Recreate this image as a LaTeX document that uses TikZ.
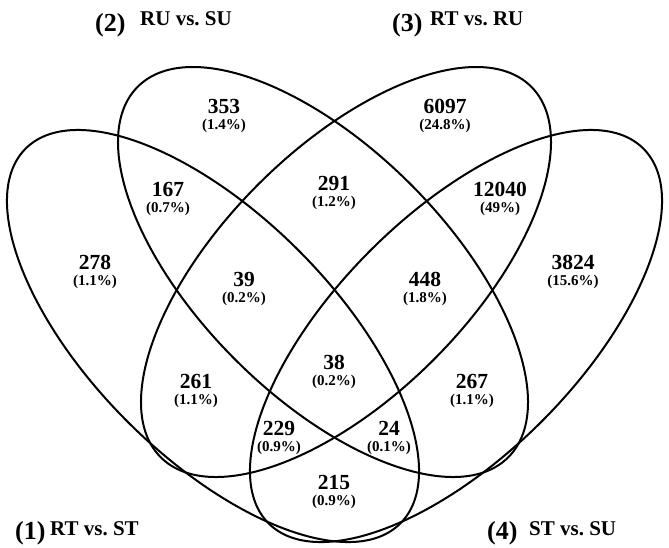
\documentclass[tikz,border=0pt]{standalone}
\usepackage{fontspec}
\setmainfont{Liberation Serif}
\tikzset{
  venn/.style={line width=2pt, black},
  num/.style={font=\fontsize{21.5}{24}\selectfont\bfseries, inner sep=0pt, anchor=base},
  pct/.style={font=\fontsize{15}{17}\selectfont\bfseries, inner sep=0pt, anchor=base},
  setno/.style={font=\fontsize{26}{30}\selectfont\bfseries, inner sep=0pt, anchor=base west},
  setname/.style={font=\fontsize{21}{24}\selectfont\bfseries, inner sep=0pt, anchor=base west},
}
\begin{document}
\begin{tikzpicture}[x=1pt, y=-1pt]
\useasboundingbox (0,0) rectangle (669,547);
% ellipses
\draw[venn, rotate around={-45:(213,336)}] (213,336) ellipse [x radius=265, y radius=121];
\draw[venn, rotate around={-45:(323,272)}] (323,272) ellipse [x radius=262, y radius=124];
\draw[venn, rotate around={45:(346,272)}] (346,272) ellipse [x radius=262, y radius=124];
\draw[venn, rotate around={45:(456,336)}] (456,336) ellipse [x radius=265, y radius=121];
% set labels
\node[setno] (s2) at (95,31) {(2)};
\node[setname] (t2) at (140,25) {RU vs.\ SU};
\node[setno] (s3) at (392,31) {(3)};
\node[setname] (t3) at (430,25) {RT vs.\ RU};
\node[setno] (s1) at (15,539) {(1)};
\node[setname] (t1) at (50,535) {RT vs.\ ST};
\node[setno] (s4) at (487,539) {(4)};
\node[setname] (t4) at (529,535) {ST vs.\ SU};
% region values
\node[num] (n353) at (224,113) {353};   \node[pct] (p353) at (224,129) {(1.4\%)};
\node[num] (n6097) at (445,113) {6097}; \node[pct] (p6097) at (445,129) {(24.8\%)};
\node[num] (n167) at (168,196) {167};   \node[pct] (p167) at (168,212) {(0.7\%)};
\node[num] (n12040) at (500,196) {12040}; \node[pct] (p12040) at (500,212) {(49\%)};
\node[num] (n291) at (334,190) {291};   \node[pct] (p291) at (334,206) {(1.2\%)};
\node[num] (n278) at (95,269) {278};    \node[pct] (p278) at (95,285) {(1.1\%)};
\node[num] (n3824) at (573,269) {3824}; \node[pct] (p3824) at (573,285) {(15.6\%)};
\node[num] (n39) at (244,286) {39};     \node[pct] (p39) at (244,302) {(0.2\%)};
\node[num] (n448) at (425,286) {448};   \node[pct] (p448) at (425,302) {(1.8\%)};
\node[num] (n38) at (334,369) {38};     \node[pct] (p38) at (334,385) {(0.2\%)};
\node[num] (n261) at (196,388) {261};   \node[pct] (p261) at (196,404) {(1.1\%)};
\node[num] (n267) at (472,388) {267};   \node[pct] (p267) at (472,404) {(1.1\%)};
\node[num] (n229) at (279,435) {229};   \node[pct] (p229) at (279,451) {(0.9\%)};
\node[num] (n24) at (389,435) {24};     \node[pct] (p24) at (389,451) {(0.1\%)};
\node[num] (n215) at (334,489) {215};   \node[pct] (p215) at (334,505) {(0.9\%)};
\end{tikzpicture}
\end{document}
